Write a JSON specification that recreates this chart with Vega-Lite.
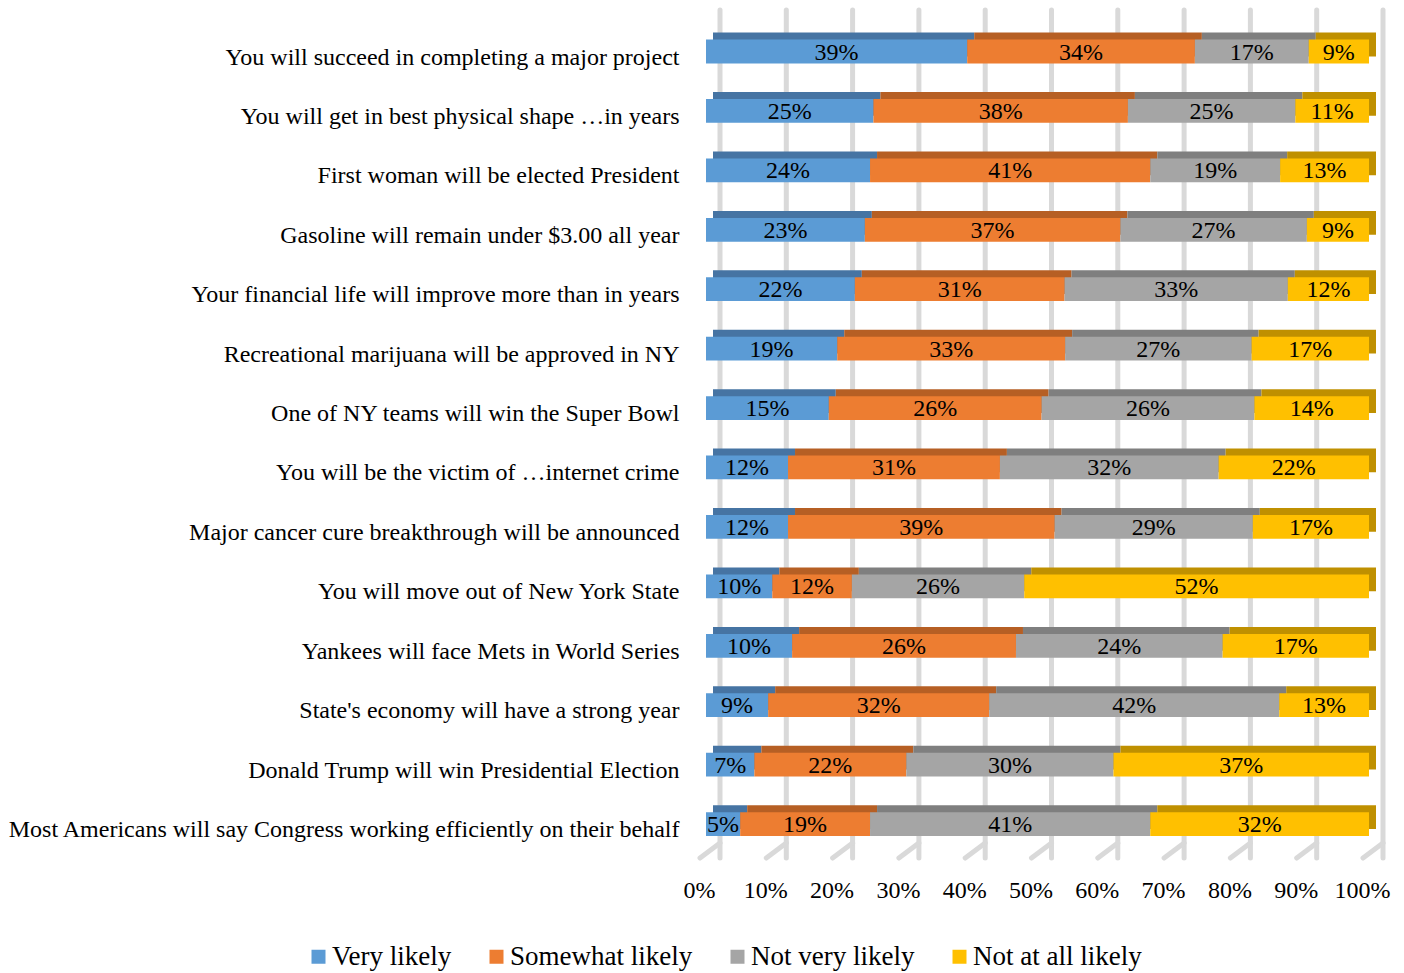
{
  "$schema": "https://vega.github.io/schema/vega-lite/v6.json",
  "autosize": "none",
  "width": 663,
  "height": 848,
  "padding": {"left": 706, "top": 10, "right": 35, "bottom": 115},
  "background": "white",
  "config": {"view": {"stroke": null}, "font": "Liberation Serif"},
  "datasets": {
    "grid": [{"g": 0}, {"g": 0.1}, {"g": 0.2}, {"g": 0.3}, {"g": 0.4}, {"g": 0.5}, {"g": 0.6}, {"g": 0.7}, {"g": 0.8}, {"g": 0.9}, {"g": 1}],
    "survey": [
      {"q": "You will succeed in completing a major project", "r": "Very likely", "k": 1, "v": 0.39},
      {"q": "You will succeed in completing a major project", "r": "Somewhat likely", "k": 2, "v": 0.34},
      {"q": "You will succeed in completing a major project", "r": "Not very likely", "k": 3, "v": 0.17},
      {"q": "You will succeed in completing a major project", "r": "Not at all likely", "k": 4, "v": 0.09},
      {"q": "You will get in best physical shape …in years", "r": "Very likely", "k": 1, "v": 0.25},
      {"q": "You will get in best physical shape …in years", "r": "Somewhat likely", "k": 2, "v": 0.38},
      {"q": "You will get in best physical shape …in years", "r": "Not very likely", "k": 3, "v": 0.25},
      {"q": "You will get in best physical shape …in years", "r": "Not at all likely", "k": 4, "v": 0.11},
      {"q": "First woman will be elected President", "r": "Very likely", "k": 1, "v": 0.24},
      {"q": "First woman will be elected President", "r": "Somewhat likely", "k": 2, "v": 0.41},
      {"q": "First woman will be elected President", "r": "Not very likely", "k": 3, "v": 0.19},
      {"q": "First woman will be elected President", "r": "Not at all likely", "k": 4, "v": 0.13},
      {"q": "Gasoline will remain under $3.00 all year", "r": "Very likely", "k": 1, "v": 0.23},
      {"q": "Gasoline will remain under $3.00 all year", "r": "Somewhat likely", "k": 2, "v": 0.37},
      {"q": "Gasoline will remain under $3.00 all year", "r": "Not very likely", "k": 3, "v": 0.27},
      {"q": "Gasoline will remain under $3.00 all year", "r": "Not at all likely", "k": 4, "v": 0.09},
      {"q": "Your financial life will improve more than in years", "r": "Very likely", "k": 1, "v": 0.22},
      {"q": "Your financial life will improve more than in years", "r": "Somewhat likely", "k": 2, "v": 0.31},
      {"q": "Your financial life will improve more than in years", "r": "Not very likely", "k": 3, "v": 0.33},
      {"q": "Your financial life will improve more than in years", "r": "Not at all likely", "k": 4, "v": 0.12},
      {"q": "Recreational marijuana will be approved in NY", "r": "Very likely", "k": 1, "v": 0.19},
      {"q": "Recreational marijuana will be approved in NY", "r": "Somewhat likely", "k": 2, "v": 0.33},
      {"q": "Recreational marijuana will be approved in NY", "r": "Not very likely", "k": 3, "v": 0.27},
      {"q": "Recreational marijuana will be approved in NY", "r": "Not at all likely", "k": 4, "v": 0.17},
      {"q": "One of NY teams will win the Super Bowl", "r": "Very likely", "k": 1, "v": 0.15},
      {"q": "One of NY teams will win the Super Bowl", "r": "Somewhat likely", "k": 2, "v": 0.26},
      {"q": "One of NY teams will win the Super Bowl", "r": "Not very likely", "k": 3, "v": 0.26},
      {"q": "One of NY teams will win the Super Bowl", "r": "Not at all likely", "k": 4, "v": 0.14},
      {"q": "You will be the victim of …internet crime", "r": "Very likely", "k": 1, "v": 0.12},
      {"q": "You will be the victim of …internet crime", "r": "Somewhat likely", "k": 2, "v": 0.31},
      {"q": "You will be the victim of …internet crime", "r": "Not very likely", "k": 3, "v": 0.32},
      {"q": "You will be the victim of …internet crime", "r": "Not at all likely", "k": 4, "v": 0.22},
      {"q": "Major cancer cure breakthrough will be announced", "r": "Very likely", "k": 1, "v": 0.12},
      {"q": "Major cancer cure breakthrough will be announced", "r": "Somewhat likely", "k": 2, "v": 0.39},
      {"q": "Major cancer cure breakthrough will be announced", "r": "Not very likely", "k": 3, "v": 0.29},
      {"q": "Major cancer cure breakthrough will be announced", "r": "Not at all likely", "k": 4, "v": 0.17},
      {"q": "You will move out of New York State", "r": "Very likely", "k": 1, "v": 0.10},
      {"q": "You will move out of New York State", "r": "Somewhat likely", "k": 2, "v": 0.12},
      {"q": "You will move out of New York State", "r": "Not very likely", "k": 3, "v": 0.26},
      {"q": "You will move out of New York State", "r": "Not at all likely", "k": 4, "v": 0.52},
      {"q": "Yankees will face Mets in World Series", "r": "Very likely", "k": 1, "v": 0.10},
      {"q": "Yankees will face Mets in World Series", "r": "Somewhat likely", "k": 2, "v": 0.26},
      {"q": "Yankees will face Mets in World Series", "r": "Not very likely", "k": 3, "v": 0.24},
      {"q": "Yankees will face Mets in World Series", "r": "Not at all likely", "k": 4, "v": 0.17},
      {"q": "State's economy will have a strong year", "r": "Very likely", "k": 1, "v": 0.09},
      {"q": "State's economy will have a strong year", "r": "Somewhat likely", "k": 2, "v": 0.32},
      {"q": "State's economy will have a strong year", "r": "Not very likely", "k": 3, "v": 0.42},
      {"q": "State's economy will have a strong year", "r": "Not at all likely", "k": 4, "v": 0.13},
      {"q": "Donald Trump will win Presidential Election", "r": "Very likely", "k": 1, "v": 0.07},
      {"q": "Donald Trump will win Presidential Election", "r": "Somewhat likely", "k": 2, "v": 0.22},
      {"q": "Donald Trump will win Presidential Election", "r": "Not very likely", "k": 3, "v": 0.30},
      {"q": "Donald Trump will win Presidential Election", "r": "Not at all likely", "k": 4, "v": 0.37},
      {"q": "Most Americans will say Congress working efficiently on their behalf", "r": "Very likely", "k": 1, "v": 0.05},
      {"q": "Most Americans will say Congress working efficiently on their behalf", "r": "Somewhat likely", "k": 2, "v": 0.19},
      {"q": "Most Americans will say Congress working efficiently on their behalf", "r": "Not very likely", "k": 3, "v": 0.41},
      {"q": "Most Americans will say Congress working efficiently on their behalf", "r": "Not at all likely", "k": 4, "v": 0.32}
    ]
  },
  "layer": [
    {
      "data": {"name": "grid"},
      "mark": {"type": "rule", "color": "#d9d9d9", "strokeWidth": 5, "strokeCap": "round", "xOffset": 14, "y2Offset": -15},
      "encoding": {
        "x": {"field": "g", "type": "quantitative", "title": null, "scale": {"domain": [0, 1]}}
      }
    },
    {
      "data": {"name": "grid"},
      "mark": {"type": "rule", "color": "#d9d9d9", "strokeWidth": 5, "strokeCap": "round", "xOffset": 14, "x2Offset": -6, "yOffset": -15, "y2Offset": 0},
      "encoding": {
        "x": {"field": "g", "type": "quantitative", "title": null},
        "x2": {"field": "g"},
        "y": {"value": "height"},
        "y2": {"value": "height"}
      }
    },
    {
      "data": {"name": "survey"},
      "mark": {"type": "bar", "xOffset": 7, "x2Offset": 7, "yOffset": -7, "y2Offset": -7},
      "encoding": {
        "y": {"field": "q", "type": "nominal", "sort": null, "title": null,
              "scale": {"paddingInner": 0.6, "paddingOuter": 0.435, "align": 0.573}},
        "x": {"field": "v", "type": "quantitative", "stack": "normalize", "title": null},
        "order": {"field": "k", "type": "quantitative"},
        "color": {"field": "r", "type": "nominal", "legend": null,
                  "scale": {"domain": ["Very likely", "Somewhat likely", "Not very likely", "Not at all likely"],
                            "range": ["#4674a3", "#b65f24", "#7f7f7f", "#bf9000"]}}
      }
    },
    {
      "data": {"name": "survey"},
      "mark": {"type": "bar"},
      "encoding": {
        "y": {"field": "q", "type": "nominal", "sort": null,
              "axis": {"title": null, "domain": false, "ticks": false, "labelFontSize": 24, "labelFont": "Liberation Serif",
                       "labelColor": "#000000", "labelPadding": 27, "labelLimit": 900, "labelOffset": 6}},
        "x": {"field": "v", "type": "quantitative", "stack": "normalize",
              "axis": {"title": null, "domain": false, "ticks": false, "grid": false, "values": [0, 0.1, 0.2, 0.3, 0.4, 0.5, 0.6, 0.7, 0.8, 0.9, 1],
                       "format": ".0%", "labelFontSize": 24, "labelFont": "Liberation Serif", "labelColor": "#000000",
                       "labelPadding": 20, "labelOffset": -7, "labelFlush": false, "labelOverlap": false}},
        "order": {"field": "k", "type": "quantitative"},
        "fill": {"field": "r", "type": "nominal",
                 "scale": {"domain": ["Very likely", "Somewhat likely", "Not very likely", "Not at all likely"],
                           "range": ["#5b9bd5", "#ed7d31", "#a5a5a5", "#ffc000"]},
                 "legend": {"title": null, "orient": "none", "legendX": -401, "legendY": 933, "direction": "horizontal",
                            "symbolType": "square", "symbolSize": 196, "symbolStrokeWidth": 0, "labelFontSize": 27,
                            "labelFont": "Liberation Serif", "labelColor": "#000000", "columnPadding": 31, "labelOffset": 0,
                            "labelLimit": 400}}
      }
    },
    {
      "data": {"name": "survey"},
      "mark": {"type": "text", "fontSize": 24, "font": "Liberation Serif", "color": "#000000", "baseline": "middle", "dy": 1},
      "encoding": {
        "y": {"field": "q", "type": "nominal", "sort": null, "title": null},
        "x": {"field": "v", "type": "quantitative", "stack": "normalize", "bandPosition": 0.5, "title": null},
        "detail": {"field": "r"},
        "order": {"field": "k", "type": "quantitative"},
        "text": {"field": "v", "type": "quantitative", "format": ".0%"}
      }
    }
  ],
  "resolve": {"scale": {"color": "independent", "fill": "independent"}}
}
